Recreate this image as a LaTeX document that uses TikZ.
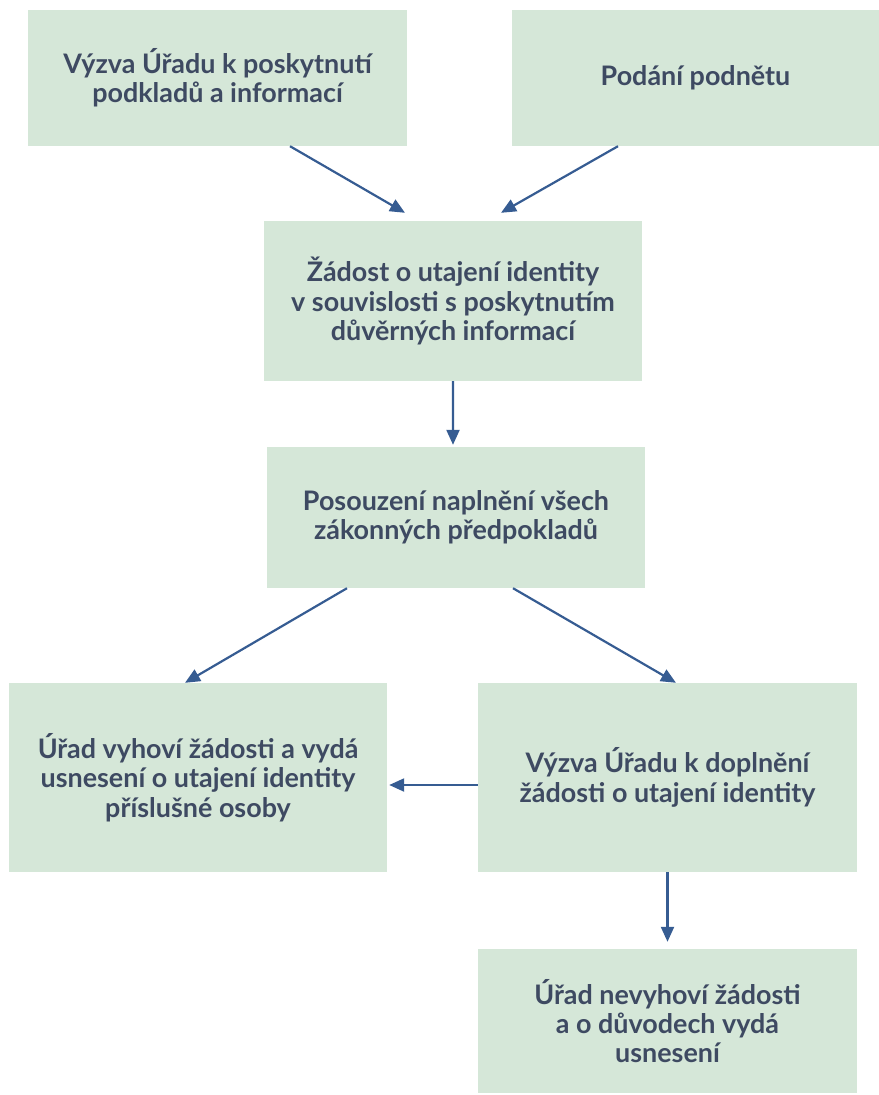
\documentclass[tikz,border=0pt]{standalone}
\usepackage{fontspec}
\setmainfont{Lato}
\usetikzlibrary{arrows.meta}
\definecolor{boxgreen}{HTML}{D5E7D8}
\definecolor{textslate}{HTML}{3E4A62}
\definecolor{arrowblue}{HTML}{365C92}
\tikzset{stepbox/.style={fill=boxgreen, inner sep=0pt, align=center,
  text=textslate, font=\fontsize{27}{29.5}\selectfont\bfseries}}
\tikzset{flow/.style={arrowblue, line width=2.2bp,
  -{Triangle[length=15bp,width=13bp]}}}

\begin{document}
\begin{tikzpicture}[x=1bp,y=-1bp]
      \useasboundingbox (0,0) rectangle (879,1095);

      \node [stepbox, minimum width=379bp, minimum height=136bp] (vyzva) at (217.5,78) {Výzva Úřadu k poskytnutí\\podkladů a informací};
      \node [stepbox, minimum width=367bp, minimum height=136bp] (podani) at (695.5,78) {Podání podnětu};
      \node [stepbox, minimum width=378bp, minimum height=160bp] (zadost) at (453,301) {Žádost o utajení identity\\v souvislosti s poskytnutím\\důvěrných informací};
      \node [stepbox, minimum width=378bp, minimum height=141bp] (posouzeni) at (456,517.5) {Posouzení naplnění všech\\zákonných předpokladů};
      \node [stepbox, minimum width=378bp, minimum height=189bp] (vyhovi) at (198,777.5) {Úřad vyhoví žádosti a vydá\\usnesení o utajení identity\\příslušné osoby};
      \node [stepbox, minimum width=379bp, minimum height=189bp] (doplneni) at (667.5,777.5) {Výzva Úřadu k doplnění\\žádosti o utajení identity};
      \node [stepbox, minimum width=379bp, minimum height=144bp] (nevyhovi) at (667.5,1021) {Úřad nevyhoví žádosti\\a o důvodech vydá\\usnesení};

      \draw [flow] ([xshift=72.5bp]vyzva.south) -- ([xshift=-48bp,yshift=8bp]zadost.north);
      \draw [flow] ([xshift=-77.5bp]podani.south) -- ([xshift=48bp,yshift=8bp]zadost.north);
      \draw [flow] (zadost.south) -- ([xshift=-3bp,yshift=2bp]posouzeni.north);
      \draw [flow] ([xshift=-109bp]posouzeni.south) -- ([xshift=-13bp]vyhovi.north);
      \draw [flow] ([xshift=57bp]posouzeni.south) -- ([xshift=8.5bp]doplneni.north);
      \draw [flow] ([yshift=-7.5bp]doplneni.west) -- ([xshift=2bp,yshift=-7.5bp]vyhovi.east);
      \draw [flow] (doplneni.south) -- ([yshift=7bp]nevyhovi.north);
    \end{tikzpicture}
\end{document}
